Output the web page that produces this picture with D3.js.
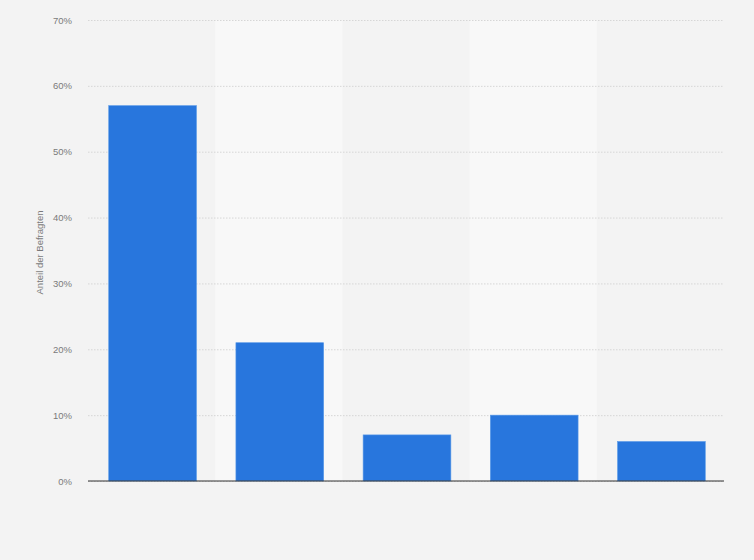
<!DOCTYPE html>
<html><head><meta charset="utf-8">
<script src="https://cdn.jsdelivr.net/npm/d3@7"></script>
<style>body{margin:0;background:#f3f3f3;} svg{display:block;font-family:"Liberation Sans",Arial,sans-serif;}</style>
</head><body>
<svg id="c" width="754" height="560"></svg>
<script>
const categories = ["1", "2", "3", "4", "5"];
const values = [57, 21, 7, 10, 6];
const yTicks = [0, 10, 20, 30, 40, 50, 60, 70];
const yTitle = "Anteil der Befragten";

const svg = d3.select("#c");
const m = {left: 88, right: 30, top: 20, bottom: 79};
const W = 754, H = 560;
const x = d3.scaleBand().domain(categories).range([m.left + 1, W - m.right + 1]).paddingInner(0.31).paddingOuter(0.155);
const xb = d3.scaleBand().domain(categories).range([m.left, W - m.right]);
const y = d3.scaleLinear().domain([0, 70]).range([H - m.bottom, m.top]);

svg.append("rect").attr("width", W).attr("height", H).attr("fill", "#f3f3f3");
svg.selectAll("rect.band").data(categories.filter((d, i) => i % 2 === 1)).join("rect")
  .attr("class", "band").attr("x", d => xb(d)).attr("width", xb.bandwidth())
  .attr("y", y(70)).attr("height", y(0) - y(70)).attr("fill", "#f8f8f8");

const ya = d3.axisLeft(y).tickValues(yTicks).tickFormat(d => d + "%").tickSize(-(W - m.left - m.right)).tickPadding(16);
const g = svg.append("g").attr("transform", `translate(${m.left},0)`).call(ya);
g.select(".domain").remove();
g.selectAll(".tick line").attr("stroke", "#d6d6d6").attr("stroke-dasharray", "1.5,1.5");
g.selectAll(".tick text").attr("fill", "#7a7a7a").attr("font-size", 9.5).attr("font-family", "Liberation Sans, Arial, sans-serif");

svg.selectAll("rect.bar").data(values).join("rect").attr("class", "bar")
  .attr("x", (d, i) => x(categories[i])).attr("width", x.bandwidth())
  .attr("y", d => y(d)).attr("height", d => y(0) - y(d))
  .attr("fill", "#2876dd").attr("stroke", "#5b9be8").attr("stroke-width", 0.6);

const xa = d3.axisBottom(x).tickSize(0).tickFormat(() => "");
const gx = svg.append("g").attr("transform", `translate(0,${y(0)})`).call(xa);
gx.select(".domain").attr("stroke", "#333").attr("stroke-width", 1.2).attr("d", `M${m.left},0H${W - m.right}`);

svg.append("text").attr("transform", `translate(43,${(y(0) + y(70)) / 2 + 2}) rotate(-90)`)
  .attr("text-anchor", "middle").attr("fill", "#7a7a7a").attr("font-size", 9.5).text(yTitle);
</script>
</body></html>
